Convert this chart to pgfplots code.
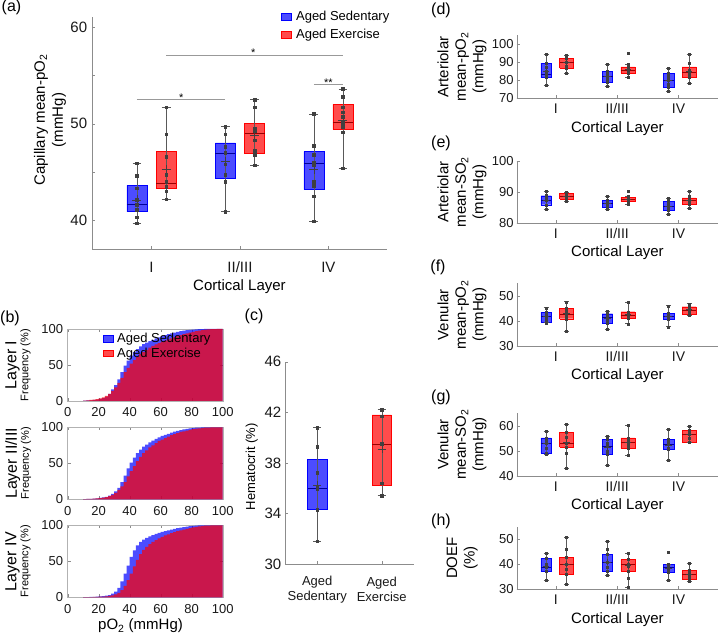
\documentclass[border=0pt]{standalone}
\usepackage{fontspec}
\setmainfont{Liberation Sans}
\usepackage{pgfplots}
\usepackage{pgfplotstable}
\pgfplotsset{compat=1.18}

\newcommand{\fs}[2]{\fontsize{#1}{#2}\selectfont}

% cumulative pO2 histograms, 2 mmHg bins (centres), sedentary / exercise
\pgfplotstableread{
x sed exe
11 0.5 0.5
13 0.8 1
15 1 1.5
17 1.5 2
19 2 2.5
21 3 3.5
23 4 5
25 6 7
27 10 10
29 16 14
31 22 19
33 30 25
35 40 32
37 49 40
39 56 46
41 63 52
43 68 57
45 72 61
47 76 65
49 79 68
51 81 71
53 83 74
55 85 76.5
57 87 78.5
59 88.5 80.5
61 90 82.5
63 91.5 84
65 93 85.5
67 94 87
69 95 88.5
71 96 90
73 97 91.5
75 97.7 93
77 98.3 94
79 98.8 95
81 99.2 96
83 99.5 97
85 99.7 97.8
87 99.9 98.5
89 100 99
91 100 99.4
93 100 99.7
95 100 99.9
97 100 100
99 100 100
}\layI
\pgfplotstableread{
x sed exe
11 0.3 0.3
13 0.5 0.5
15 0.7 0.7
17 1 1
19 1.3 1.3
21 2 1.8
23 2.5 2.3
25 3.5 3
27 5 4.3
29 7.5 6
31 11 9
33 16 13
35 24 18
37 33 24
39 43 32
41 51 39
43 58 46
45 64 53
47 69 59
49 73 64
51 76 68
53 79 72
55 81.5 75
57 84 78
59 86 81
61 88 83
63 89.5 85
65 91 87
67 92.5 89
69 94 90.5
71 95 92
73 96 93.5
75 97 94.5
77 97.8 95.5
79 98.5 96.5
81 99 97.3
83 99.4 98
85 99.7 98.6
87 99.9 99
89 100 99.4
91 100 99.7
93 100 99.9
95 100 100
97 100 100
99 100 100
}\layII
\pgfplotstableread{
x sed exe
11 0.2 0.2
13 0.3 0.3
15 0.5 0.4
17 0.7 0.5
19 1 0.7
21 1.3 0.9
23 1.7 1.1
25 2.2 1.4
27 3 2
29 5 2.8
31 8 4
33 13 6
35 22 10
37 33 16
39 44 24
41 56 33
43 65 43
45 72 52
47 77 60
49 80 66
51 82.5 70
53 84.5 74
55 86.5 77
57 88 79.5
59 89.5 82
61 91 84
63 92 86
65 93 87.5
67 94 89
69 95 90.5
71 96 92
73 96.8 93
75 97.5 94
77 98.2 95
79 98.8 96
81 99.3 97
83 99.6 97.8
85 99.8 98.4
87 100 99
89 100 99.4
91 100 99.7
93 100 99.9
95 100 100
97 100 100
99 100 100
}\layIV

\pgfplotsset{
  every axis/.append style={
    scale only axis, anchor=south west,
    /pgf/number format/assume math mode=true,
    tick align=inside, major tick length=3pt,
    axis line style={black!45}, tick style={black!45},
    ticklabel style={black!90},
  },
  pt/.style={only marks, mark=square*, mark size=1.3pt, black!75},
  mn/.style={only marks, mark=+, mark size=4.5pt, black!75, line width=0.5pt},
  lgb/.style={legend image code/.code={\fill[blue,fill opacity=0.7] (0pt,-3.3pt) rectangle (9.5pt,3.3pt);}},
  lgr/.style={legend image code/.code={\fill[red,fill opacity=0.7] (0pt,-3.3pt) rectangle (9.5pt,3.3pt);}},
  bxa/.style={axis lines*=left, clip=false,
    xtick={1,2,3}, xticklabels={I,II/III,IV},
    xticklabel style={anchor=center},
    yticklabel style={anchor=east, inner sep=0pt},
    ylabel style={anchor=center, align=center},
    xlabel style={anchor=center, at={(axis description cs:0.5,0)}}},
  sm/.style={bxa, width=201.6pt, xmin=0.36, xmax=3.65,
    yticklabel style={font=\fs{13}{15}, xshift=-3pt},
    xticklabel style={font=\fs{14}{16}, yshift=-10.5pt},
    xlabel={Cortical Layer},
    xlabel style={font=\fs{15}{18}, yshift=-30pt},
    ylabel style={font=\fs{15}{17.5}, at={(axis description cs:-0.271,0.5)}},
    mn/.append style={mark size=3.2pt}, pt/.append style={mark size=1pt}},
  hst/.style={width=155pt, height=72pt, xmin=0, xmax=100, ymin=0, ymax=100,
    xtick={0,20,...,100}, ytick={0,50,100},
    axis line style={black!30},
    tick label style={font=\fs{13}{15}},
    xticklabel style={anchor=center, yshift=-11.3pt},
    yticklabel style={anchor=east, inner sep=0pt, xshift=-4.4pt},
    ylabel style={anchor=center, align=center, at={(axis description cs:-0.32,0.5)}}},
  hb/.style={ybar, bar width=2, bar shift=0pt, draw=none, fill=blue, fill opacity=0.7},
  hr/.style={ybar, bar width=2, bar shift=0pt, draw=none, fill=red, fill opacity=0.7},
}

% box: position, colour, width, lower whisker, lower quartile, median, upper quartile, upper whisker, mean
% (\wex = whisker cap width, set per panel)
\newcommand{\bx}[9]{%
  \pgfmathsetmacro\xa{#1-#3/2}\pgfmathsetmacro\xb{#1+#3/2}%
  \pgfmathsetmacro\ca{#1-\wex/2}\pgfmathsetmacro\cb{#1+\wex/2}%
  \addplot[draw=#2, fill=#2, fill opacity=0.7, line width=0.4pt]
    coordinates {(\xa,#5) (\xb,#5) (\xb,#7) (\xa,#7) (\xa,#5)};
  \addplot[#2!60!black, line width=0.5pt] coordinates {(\xa,#6) (\xb,#6)};
  \addplot[black!65, line width=0.5pt] coordinates {(#1,#4) (#1,#8)};
  \addplot[black!65, line width=0.5pt] coordinates {(\ca,#4) (\cb,#4)};
  \addplot[black!65, line width=0.5pt] coordinates {(\ca,#8) (\cb,#8)};
  \addplot[mn] coordinates {(#1,#9)};
}

\begin{document}
\begin{tikzpicture}
\useasboundingbox (0,0) rectangle (720pt,634pt);

% ---------------- (a)
\def\wex{0.1}
\begin{axis}[bxa, at={(92.3pt,384.7pt)}, width=294.4pt, height=232pt,
  xmin=0.33, xmax=3.66, ymin=37, ymax=61,
  ytick={40,45,...,60}, yticklabels={40,,50,,60},
  tick label style={font=\fs{15}{18}},
  xticklabel style={yshift=-17.7pt}, yticklabel style={xshift=-5pt},
  ylabel={Capillary mean-pO\textsubscript{2}\\(mmHg)},
  ylabel style={font=\fs{15}{18}, at={(axis description cs:-0.144,0.557)}},
  xlabel={Cortical Layer}, xlabel style={font=\fs{15}{18}, yshift=-37pt},
  legend style={at={(axis description cs:0.641,1.035)}, anchor=north west,
    draw=none, fill=none, font=\fs{13}{15}, row sep=3pt, inner sep=0pt,
    /tikz/every odd column/.append style={column sep=3pt}},
  legend cell align=left]
\addlegendimage{lgb}\addlegendentry{Aged Sedentary}
\addlegendimage{lgr}\addlegendentry{Aged Exercise}
\bx{0.835}{blue}{0.226}{39.7}{40.9}{41.7}{43.6}{45.9}{42.1}
\addplot[pt] coordinates {(0.835,45.9) (0.835,44.6) (0.835,43.3) (0.835,42.1) (0.835,41.6) (0.835,41.1) (0.835,40.3) (0.835,39.7)};
\bx{1.165}{red}{0.226}{42.2}{43.3}{43.8}{47.1}{51.7}{45.25}
\addplot[pt] coordinates {(1.165,51.7) (1.165,48.9) (1.165,46.6) (1.165,44.7) (1.165,44.0) (1.165,43.5) (1.165,43.0) (1.165,42.2)};
\bx{1.835}{blue}{0.226}{40.9}{44.4}{46.9}{48.0}{49.7}{46.1}
\addplot[pt] coordinates {(1.835,49.7) (1.835,48.9) (1.835,47.6) (1.835,47.0) (1.835,45.8) (1.835,44.7) (1.835,44.0) (1.835,40.9)};
\bx{2.165}{red}{0.226}{45.7}{46.9}{49.0}{50.0}{52.5}{48.8}
\addplot[pt] coordinates {(2.165,52.5) (2.165,51.7) (2.165,49.5) (2.165,49.2) (2.165,48.3) (2.165,47.2) (2.165,46.8) (2.165,45.7)};
\bx{2.835}{blue}{0.226}{39.9}{43.2}{45.9}{47.1}{51.0}{45.25}
\addplot[pt] coordinates {(2.835,51.0) (2.835,47.7) (2.835,46.8) (2.835,46.0) (2.835,45.7) (2.835,44.0) (2.835,43.6) (2.835,42.5) (2.835,39.9)};
\bx{3.165}{red}{0.226}{45.4}{49.4}{50.1}{52.0}{53.6}{50.4}
\addplot[pt] coordinates {(3.165,53.6) (3.165,52.8) (3.165,51.7) (3.165,51.2) (3.165,50.7) (3.165,50.1) (3.165,49.7) (3.165,49.1) (3.165,45.4)};
% significance bars
\addplot[black!40] coordinates {(0.835,52.5) (1.835,52.5)};
\addplot[black!40] coordinates {(1.165,57.1) (3.165,57.1)};
\addplot[black!40] coordinates {(2.835,54.05) (3.165,54.05)};
\node[anchor=base, inner sep=0pt, font=\fs{11}{11}, yshift=-2pt] at (1.335,52.5) {*};
\node[anchor=base, inner sep=0pt, font=\fs{11}{11}, yshift=-2pt] at (2.15,57.1) {*};
\node[anchor=base, inner sep=0pt, font=\fs{11}{11}, yshift=-2pt] at (3.0,54.05) {**};
\end{axis}

% ---------------- (b)
\begin{axis}[hst, at={(67.7pt,233pt)},
  ylabel={{\fs{16}{19}Layer I}\\{\fs{11}{13}Frequency (\%)}},
  legend style={at={(axis description cs:0.228,0.975)}, anchor=north west,
    draw=none, fill=none, font=\fs{13}{15}, row sep=0pt, inner sep=0pt,
    /tikz/every odd column/.append style={column sep=2pt}},
  legend cell align=left]
\addlegendimage{lgb}\addlegendentry{Aged Sedentary}
\addlegendimage{lgr}\addlegendentry{Aged Exercise}
\addplot[hb] table[x=x, y=sed] {\layI};
\addplot[hr] table[x=x, y=exe] {\layI};
\end{axis}
\begin{axis}[hst, at={(67.7pt,134.7pt)},
  ylabel={{\fs{16}{19}Layer II/III}\\{\fs{11}{13}Frequency (\%)}}]
\addplot[hb] table[x=x, y=sed] {\layII};
\addplot[hr] table[x=x, y=exe] {\layII};
\end{axis}
\begin{axis}[hst, at={(67.7pt,36.7pt)},
  ylabel={{\fs{16}{19}Layer IV}\\{\fs{11}{13}Frequency (\%)}},
  xlabel={pO\textsubscript{2} (mmHg)},
  xlabel style={font=\fs{15}{18}, anchor=center, at={(axis description cs:0.47,0)}, yshift=-28.5pt}]
\addplot[hb] table[x=x, y=sed] {\layIV};
\addplot[hr] table[x=x, y=exe] {\layIV};
\end{axis}

% ---------------- (c)
\def\wex{0.13}
\begin{axis}[bxa, at={(285pt,70pt)}, width=129pt, height=202.3pt,
  xmin=0.5, xmax=2.5, ymin=30, ymax=46, ytick={30,34,...,46},
  xtick={1,2}, xticklabels={{Aged\\Sedentary},{Aged\\Exercise}},
  xticklabel style={align=center, font=\fs{13}{15.6}, yshift=-25.5pt},
  yticklabel style={font=\fs{15}{18}, xshift=-3.5pt},
  ylabel={Hematocrit (\%)},
  ylabel style={font=\fs{13}{15}, at={(axis description cs:-0.258,0.481)}},
  mn/.append style={mark size=4pt}]
\bx{1}{blue}{0.3}{31.8}{34.3}{36.0}{38.3}{40.8}{36.25}
\addplot[pt] coordinates {(1,40.8) (1,39.3) (1,37.2) (1,36.1) (1,35.9) (1,34.3) (1,31.8)};
\bx{2}{red}{0.3}{35.4}{36.2}{39.5}{41.8}{42.2}{39.1}
\addplot[pt] coordinates {(2,42.2) (2,41.7) (2,39.5) (2,36.4) (2,35.4)};
\end{axis}

% ---------------- (d)
\def\wex{0.08}
\begin{axis}[sm, at={(516.7pt,535.7pt)}, height=63pt, ymin=70, ymax=105, ytick={70,80,90,100},
  ylabel={Arteriolar\\mean-pO\textsubscript{2}\\(mmHg)}]
\bx{0.84}{blue}{0.17}{77.0}{81.5}{83.3}{89.6}{94.6}{85.0}
\addplot[pt] coordinates {(0.84,94.6) (0.84,89.4) (0.84,87.2) (0.84,84.8) (0.84,83.3) (0.84,81.5) (0.84,77.0)};
\bx{1.175}{red}{0.23}{83.9}{86.7}{90.0}{92.2}{94.1}{89.8}
\addplot[pt] coordinates {(1.175,94.1) (1.175,92.2) (1.175,90.0) (1.175,88.1) (1.175,86.7) (1.175,83.9)};
\bx{1.84}{blue}{0.17}{76.7}{79.1}{82.0}{85.0}{89.1}{82.3}
\addplot[pt] coordinates {(1.84,89.1) (1.84,85.0) (1.84,83.5) (1.84,82.0) (1.84,80.6) (1.84,79.1) (1.84,76.7)};
\bx{2.175}{red}{0.23}{81.7}{84.1}{85.7}{87.4}{89.1}{86.2}
\addplot[pt] coordinates {(2.175,95.2) (2.175,89.1) (2.175,87.4) (2.175,86.5) (2.175,85.7) (2.175,84.8) (2.175,84.1) (2.175,81.7)};
\bx{2.84}{blue}{0.17}{73.9}{76.1}{79.8}{83.9}{86.7}{80.3}
\addplot[pt] coordinates {(2.84,86.7) (2.84,83.9) (2.84,83.0) (2.84,81.7) (2.84,79.8) (2.84,78.0) (2.84,76.1) (2.84,73.9)};
\bx{3.175}{red}{0.23}{78.3}{81.9}{84.6}{87.4}{94.3}{85.0}
\addplot[pt] coordinates {(3.175,94.3) (3.175,89.4) (3.175,85.7) (3.175,84.6) (3.175,83.1) (3.175,81.9) (3.175,78.3)};
\end{axis}

% ---------------- (e)
\begin{axis}[sm, at={(516.7pt,411pt)}, height=62pt, ymin=80, ymax=100, ytick={80,90,100},
  ylabel={Arteriolar\\mean-SO\textsubscript{2}\\(mmHg)}]
\bx{0.84}{blue}{0.17}{84.4}{85.9}{87.2}{88.8}{90.1}{87.4}
\addplot[pt] coordinates {(0.84,90.1) (0.84,88.9) (0.84,88.0) (0.84,87.2) (0.84,85.9) (0.84,84.4)};
\bx{1.175}{red}{0.23}{87.0}{87.8}{88.7}{89.5}{89.9}{88.7}
\addplot[pt] coordinates {(1.175,89.9) (1.175,89.5) (1.175,88.9) (1.175,88.4) (1.175,87.8) (1.175,87.0)};
\bx{1.84}{blue}{0.17}{84.4}{85.2}{86.3}{87.3}{88.6}{86.3}
\addplot[pt] coordinates {(1.84,88.6) (1.84,87.3) (1.84,86.6) (1.84,86.0) (1.84,85.2) (1.84,84.4)};
\bx{2.175}{red}{0.23}{86.1}{86.9}{87.6}{88.3}{88.6}{87.7}
\addplot[pt] coordinates {(2.175,90.3) (2.175,88.6) (2.175,88.3) (2.175,87.8) (2.175,87.4) (2.175,86.9) (2.175,86.1)};
\bx{2.84}{blue}{0.17}{82.8}{84.0}{85.3}{87.0}{88.0}{85.4}
\addplot[pt] coordinates {(2.84,88.0) (2.84,87.0) (2.84,86.1) (2.84,85.3) (2.84,84.6) (2.84,84.0) (2.84,82.8)};
\bx{3.175}{red}{0.23}{84.8}{86.2}{87.2}{88.1}{90.1}{87.3}
\addplot[pt] coordinates {(3.175,90.1) (3.175,88.8) (3.175,88.1) (3.175,87.2) (3.175,86.6) (3.175,86.2) (3.175,84.8)};
\end{axis}

% ---------------- (f)
\begin{axis}[sm, at={(516.7pt,288pt)}, height=62.5pt, ymin=30, ymax=55, ytick={30,40,50},
  ylabel={Venular\\mean-pO\textsubscript{2}\\(mmHg)}]
\bx{0.84}{blue}{0.17}{39.3}{39.6}{41.7}{43.5}{45.3}{42.0}
\addplot[pt] coordinates {(0.84,45.3) (0.84,43.5) (0.84,42.5) (0.84,41.7) (0.84,40.2) (0.84,39.3)};
\bx{1.175}{red}{0.23}{36.0}{40.9}{42.7}{45.1}{47.7}{43.0}
\addplot[pt] coordinates {(1.175,47.7) (1.175,45.1) (1.175,44.0) (1.175,42.7) (1.175,41.8) (1.175,40.9) (1.175,36.0)};
\bx{1.84}{blue}{0.17}{36.7}{39.2}{41.3}{42.9}{43.9}{41.0}
\addplot[pt] coordinates {(1.84,43.9) (1.84,42.9) (1.84,42.0) (1.84,41.3) (1.84,39.8) (1.84,39.2) (1.84,36.7)};
\bx{2.175}{red}{0.23}{38.9}{41.1}{42.4}{43.7}{47.5}{42.5}
\addplot[pt] coordinates {(2.175,47.5) (2.175,43.7) (2.175,42.8) (2.175,42.4) (2.175,41.6) (2.175,41.1) (2.175,38.9)};
\bx{2.84}{blue}{0.17}{37.7}{40.7}{41.7}{43.1}{46.1}{42.0}
\addplot[pt] coordinates {(2.84,46.1) (2.84,43.1) (2.84,42.4) (2.84,41.7) (2.84,41.0) (2.84,40.7) (2.84,37.7)};
\bx{3.175}{red}{0.23}{42.3}{42.7}{44.4}{45.7}{46.9}{44.5}
\addplot[pt] coordinates {(3.175,46.9) (3.175,45.7) (3.175,45.0) (3.175,44.4) (3.175,43.4) (3.175,42.7) (3.175,42.3)};
\end{axis}

% ---------------- (g)
\begin{axis}[sm, at={(516.7pt,158pt)}, height=62.9pt, ymin=40, ymax=65, ytick={40,50,60},
  ylabel={Venular\\mean-SO\textsubscript{2}\\(mmHg)}]
\bx{0.84}{blue}{0.17}{48.5}{49.2}{53.2}{55.2}{57.7}{53.0}
\addplot[pt] coordinates {(0.84,57.7) (0.84,55.2) (0.84,54.1) (0.84,53.2) (0.84,51.0) (0.84,49.2) (0.84,48.5)};
\bx{1.175}{red}{0.23}{43.1}{51.5}{53.0}{57.4}{60.6}{53.5}
\addplot[pt] coordinates {(1.175,60.6) (1.175,57.4) (1.175,55.6) (1.175,53.0) (1.175,51.5) (1.175,49.0) (1.175,43.1)};
\bx{1.84}{blue}{0.17}{44.2}{48.5}{51.7}{54.5}{55.7}{51.5}
\addplot[pt] coordinates {(1.84,55.7) (1.84,54.5) (1.84,53.0) (1.84,51.7) (1.84,50.0) (1.84,48.5) (1.84,44.2)};
\bx{2.175}{red}{0.23}{48.1}{51.2}{53.3}{55.2}{60.3}{53.5}
\addplot[pt] coordinates {(2.175,60.3) (2.175,55.2) (2.175,54.0) (2.175,53.3) (2.175,52.2) (2.175,51.2) (2.175,48.1)};
\bx{2.84}{blue}{0.17}{46.2}{50.5}{52.5}{54.6}{58.6}{52.4}
\addplot[pt] coordinates {(2.84,58.6) (2.84,54.6) (2.84,53.5) (2.84,52.5) (2.84,51.0) (2.84,50.5) (2.84,46.2)};
\bx{3.175}{red}{0.23}{53.3}{53.6}{56.6}{58.1}{59.9}{56.5}
\addplot[pt] coordinates {(3.175,59.9) (3.175,58.1) (3.175,57.5) (3.175,56.6) (3.175,55.0) (3.175,53.6) (3.175,53.3)};
\end{axis}

% ---------------- (h)
\begin{axis}[sm, at={(516.7pt,44.7pt)}, height=62.5pt, ymin=30, ymax=55, ytick={30,40,50},
  ylabel={DOEF\\(\%)}]
\bx{0.84}{blue}{0.17}{33.7}{37.1}{38.9}{42.4}{44.3}{39.3}
\addplot[pt] coordinates {(0.84,44.3) (0.84,42.4) (0.84,40.0) (0.84,38.9) (0.84,37.1) (0.84,33.7)};
\bx{1.175}{red}{0.23}{31.9}{35.9}{40.0}{42.9}{50.7}{40.0}
\addplot[pt] coordinates {(1.175,50.7) (1.175,46.0) (1.175,42.9) (1.175,40.0) (1.175,38.0) (1.175,35.9) (1.175,31.9)};
\bx{1.84}{blue}{0.17}{35.5}{37.3}{40.8}{43.9}{49.3}{41.0}
\addplot[pt] coordinates {(1.84,49.3) (1.84,46.0) (1.84,43.9) (1.84,40.8) (1.84,39.0) (1.84,37.3) (1.84,35.5)};
\bx{2.175}{red}{0.23}{30.9}{37.3}{40.0}{41.9}{44.5}{39.5}
\addplot[pt] coordinates {(2.175,44.5) (2.175,42.0) (2.175,40.0) (2.175,39.2) (2.175,37.3) (2.175,34.5) (2.175,30.9)};
\bx{2.84}{blue}{0.17}{33.6}{36.9}{38.7}{40.0}{40.1}{38.3}
\addplot[pt] coordinates {(2.84,44.9) (2.84,40.1) (2.84,39.0) (2.84,38.7) (2.84,37.5) (2.84,36.9) (2.84,33.6)};
\bx{3.175}{red}{0.23}{33.2}{34.0}{36.1}{37.7}{40.3}{36.0}
\addplot[pt] coordinates {(3.175,40.3) (3.175,37.7) (3.175,36.8) (3.175,36.1) (3.175,35.0) (3.175,34.0) (3.175,33.2)};
\end{axis}

% panel letters
\node[font=\fs{16}{19}] at (11.5pt,626.5pt) {(a)};
\node[font=\fs{16}{19}] at (10pt,316pt) {(b)};
\node[font=\fs{16}{19}] at (254pt,318pt) {(c)};
\node[font=\fs{16}{19}] at (441pt,624pt) {(d)};
\node[font=\fs{16}{19}] at (441pt,491pt) {(e)};
\node[font=\fs{16}{19}] at (438pt,367pt) {(f)};
\node[font=\fs{16}{19}] at (441pt,237pt) {(g)};
\node[font=\fs{16}{19}] at (441pt,113pt) {(h)};
\end{tikzpicture}
\end{document}
